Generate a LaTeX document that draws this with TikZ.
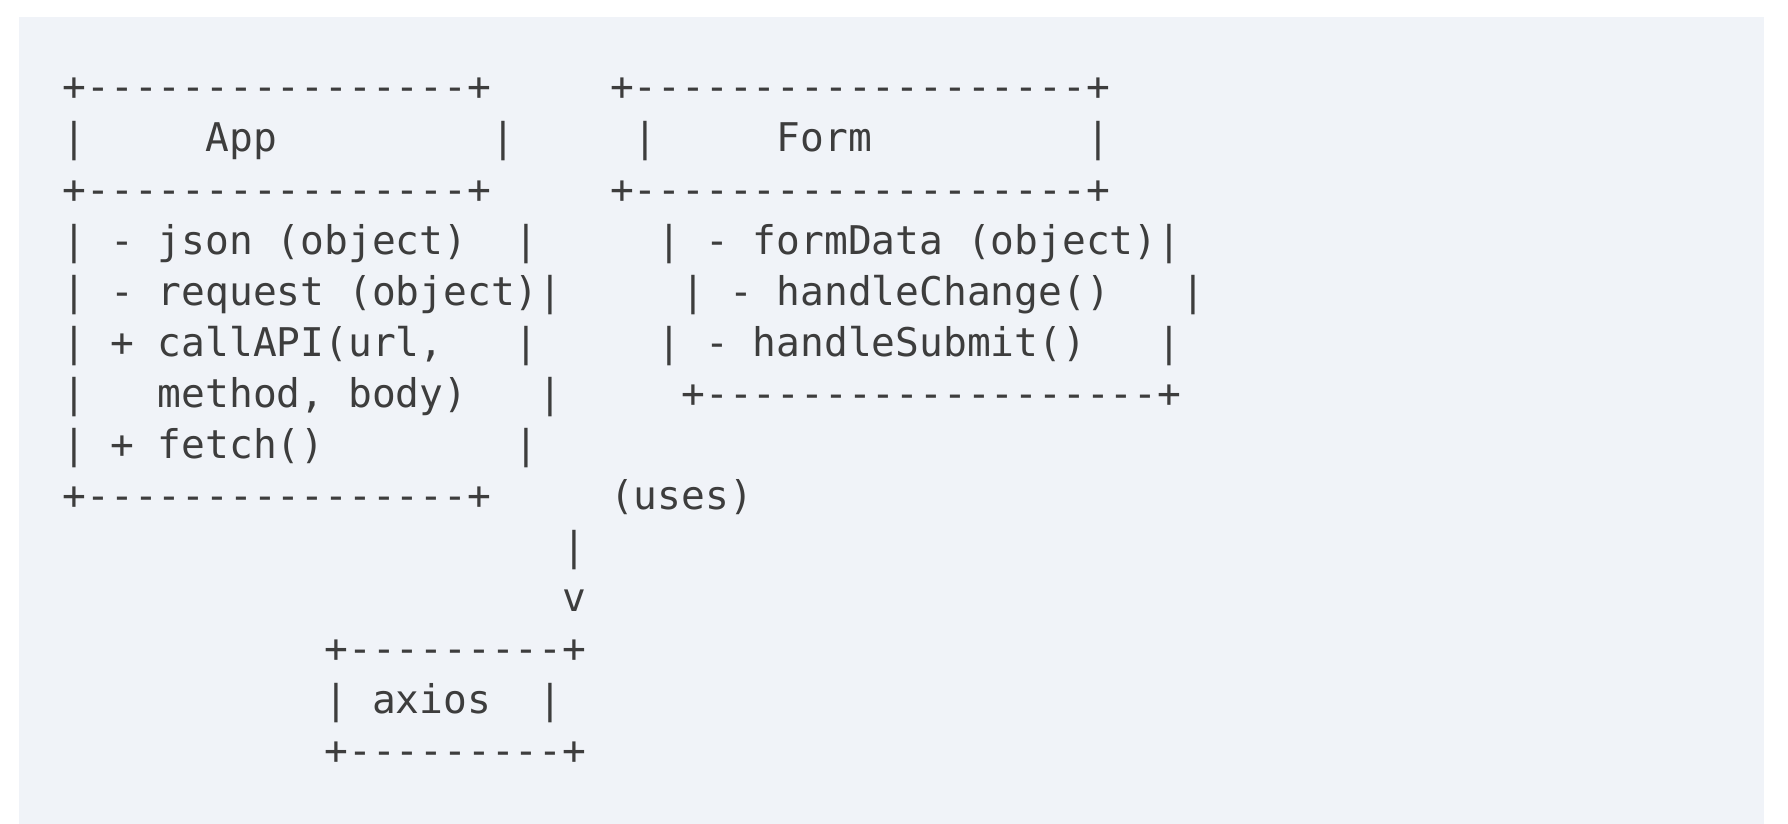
\documentclass[tikz,border=0pt]{standalone}
\usepackage{fontspec}
\setmonofont{DejaVu Sans Mono}
\definecolor{bgc}{HTML}{F0F3F8}
\definecolor{txtc}{HTML}{3D3D3D}
\newcommand\gx[1]{62.6+23.8*(#1)}
\newcommand\gy[1]{101+51*(#1)}
\frenchspacing
\begin{document}
\begin{tikzpicture}[x=0.5pt,y=-0.5pt,
  ascii/.style={anchor=base west, inner sep=0pt, outer sep=0pt, text=txtc,
    font=\ttfamily\fontsize{19.77pt}{24pt}\selectfont}]
\useasboundingbox (0,0) rectangle (1788,824);
\fill[white] (0,0) rectangle (1788,824);
\fill[bgc] (19,17) rectangle (1764,824);
% App box
\node[ascii] (appTop)   at ({\gx{0}},{\gy{0}}) {+----------------+};
\node[ascii] (appTitle) at ({\gx{0}},{\gy{1}}) {|\ \ \ \ \ App\ \ \ \ \ \ \ \ \ |};
\node[ascii] (appMid)   at ({\gx{0}},{\gy{2}}) {+----------------+};
\node[ascii] (appA)     at ({\gx{0}},{\gy{3}}) {|\ -\ json\ (object)\ \ |};
\node[ascii] (appB)     at ({\gx{0}},{\gy{4}}) {|\ -\ request\ (object)|};
\node[ascii] (appC)     at ({\gx{0}},{\gy{5}}) {|\ +\ callAPI(url,\ \ \ |};
\node[ascii] (appD)     at ({\gx{0}},{\gy{6}}) {|\ \ \ method,\ body)\ \ \ |};
\node[ascii] (appE)     at ({\gx{0}},{\gy{7}}) {|\ +\ fetch()\ \ \ \ \ \ \ \ |};
\node[ascii] (appBot)   at ({\gx{0}},{\gy{8}}) {+----------------+};
% Form box
\node[ascii] (formTop)   at ({\gx{23}},{\gy{0}}) {+-------------------+};
\node[ascii] (formTitle) at ({\gx{24}},{\gy{1}}) {|\ \ \ \ \ Form\ \ \ \ \ \ \ \ \ |};
\node[ascii] (formMid)   at ({\gx{23}},{\gy{2}}) {+-------------------+};
\node[ascii] (formA)     at ({\gx{25}},{\gy{3}}) {|\ -\ formData\ (object)|};
\node[ascii] (formB)     at ({\gx{26}},{\gy{4}}) {|\ -\ handleChange()\ \ \ |};
\node[ascii] (formC)     at ({\gx{25}},{\gy{5}}) {|\ -\ handleSubmit()\ \ \ |};
\node[ascii] (formBot)   at ({\gx{26}},{\gy{6}}) {+-------------------+};
% uses arrow
\node[ascii] (uses)  at ({\gx{23}},{\gy{8}}) {(uses)};
\node[ascii] (shaft) at ({\gx{21}},{\gy{9}}) {|};
\node[ascii] (head)  at ({\gx{21}},{\gy{10}}) {v};
% axios box
\node[ascii] (axTop)   at ({\gx{11}},{\gy{11}}) {+---------+};
\node[ascii] (axTitle) at ({\gx{11}},{\gy{12}}) {|\ axios\ \ |};
\node[ascii] (axBot)   at ({\gx{11}},{\gy{13}}) {+---------+};
\end{tikzpicture}
\end{document}
